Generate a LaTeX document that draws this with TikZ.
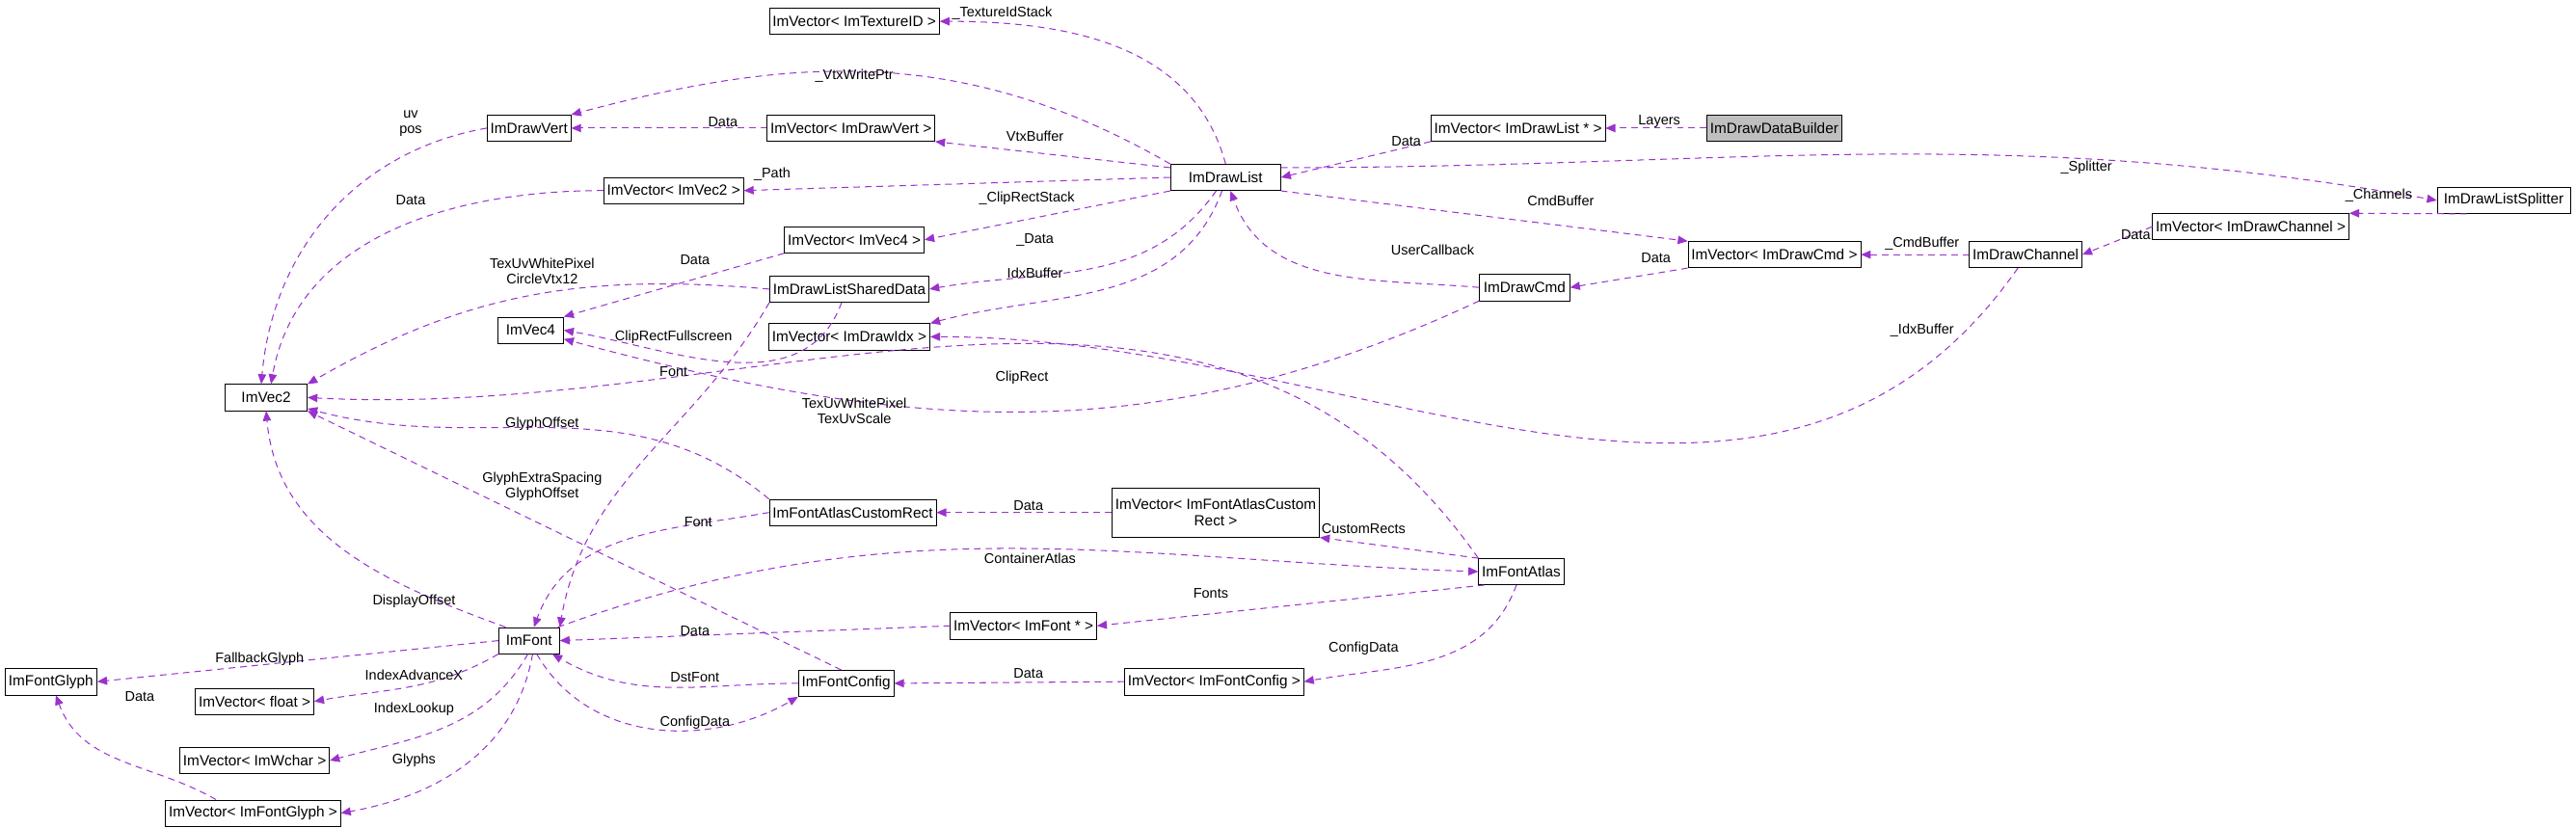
\documentclass[tikz,border=0pt]{standalone}
\usepackage{fontspec}
\setmainfont{Liberation Sans}
\usetikzlibrary{arrows.meta}
\definecolor{edgecol}{HTML}{9A32CD}
\tikzset{
  cls/.style={draw, fill=white, minimum height=16, inner xsep=2pt, inner ysep=1pt, font=\fontsize{9}{10}\selectfont},
  rel/.style={draw=edgecol, line width=0.6pt, dash pattern=on 4pt off 3pt, -{Triangle[length=6pt,width=5pt,fill=edgecol]}},
  lbl/.style={font=\fontsize{8.5}{9.5}\selectfont, inner sep=0pt, align=center}
}
\begin{document}
\begin{tikzpicture}[x=1pt,y=-1pt]
    \useasboundingbox (0,0) rectangle (1568,504);
    % classes
    \node [cls, minimum width=100] (texid) at (520,13) {ImVector< ImTextureID >};
    \node [cls, minimum width=50] (vert) at (322,78) {ImDrawVert};
    \node [cls, minimum width=97] (vvert) at (518,78) {ImVector< ImDrawVert >};
    \node [cls, minimum width=80] (vvec2) at (410,116) {ImVector< ImVec2 >};
    \node [cls, minimum width=67] (dl) at (746,108) {ImDrawList};
    \node [cls, minimum width=97] (vdl) at (924,78) {ImVector< ImDrawList * >};
    \node [cls, minimum width=80, fill=black!25] (builder) at (1080,78) {ImDrawDataBuilder};
    \node [cls, minimum width=81] (splitter) at (1524,122) {ImDrawListSplitter};
    \node [cls, minimum width=85] (vvec4) at (520,146) {ImVector< ImVec4 >};
    \node [cls, minimum width=92] (sd) at (517,176) {ImDrawListSharedData};
    \node [cls, minimum width=100] (vdcmd) at (1080,155) {ImVector< ImDrawCmd >};
    \node [cls, minimum width=65] (chan) at (1233,155) {ImDrawChannel};
    \node [cls, minimum width=110] (vchan) at (1370,138) {ImVector< ImDrawChannel >};
    \node [cls, minimum width=55] (dcmd) at (928,175) {ImDrawCmd};
    \node [cls, minimum width=40] (vec4) at (323,201) {ImVec4};
    \node [cls, minimum width=95] (vidx) at (517,205) {ImVector< ImDrawIdx >};
    \node [cls, minimum width=50] (vec2) at (162,242) {ImVec2};
    \node [cls, minimum width=98] (crect) at (519,312) {ImFontAtlasCustomRect};
    \node [cls, minimum width=119, align=center, minimum height=30] (vcrect) at (740,312) {ImVector< ImFontAtlasCustom\\Rect >};
    \node [cls, minimum width=48] (atlas) at (926,348) {ImFontAtlas};
    \node [cls, minimum width=37] (font) at (322,390) {ImFont};
    \node [cls, minimum width=80] (vfont) at (623,381) {ImVector< ImFont * >};
    \node [cls, minimum width=56] (fglyph) at (31,415) {ImFontGlyph};
    \node [cls, minimum width=70] (vfloat) at (155,427) {ImVector< float >};
    \node [cls, minimum width=50] (fconfig) at (515,416) {ImFontConfig};
    \node [cls, minimum width=102] (vfconfig) at (739,415) {ImVector< ImFontConfig >};
    \node [cls, minimum width=87] (vwchar) at (155,463) {ImVector< ImWchar >};
    \node [cls, minimum width=100] (vglyph) at (154,495) {ImVector< ImFontGlyph >};
    % relations
    \draw [rel] (dl.north) to[out=105,in=0] (texid.east);
    \draw [rel] (dl.north west) to[out=150,in=15] (vert.north east);
    \draw [rel] (vvert.west) -- (vert.east);
    \draw [rel] (dl.170) -- (vvert.south east);
    \draw [rel] (dl.west) -- (vvec2.east);
    \draw [rel] (dl.south west) -- (vvec4.east);
    \draw [rel] (dl.235) to[out=235,in=10] (sd.east);
    \draw [rel] (dl.255) to[out=250,in=15] (vidx.north east);
    \draw [rel] (vdl.south west) -- (dl.east);
    \draw [rel] (builder.west) -- (vdl.east);
    \draw [rel] (dl.10) to[out=0,in=170] (splitter.west);
    \draw [rel] (dl.south east) -- (vdcmd.north west);
    \draw [rel] (dcmd.west) to[out=175,in=290] (dl.290);
    \draw [rel] (vdcmd.south west) -- (dcmd.east);
    \draw [rel] (chan.west) -- (vdcmd.east);
    \draw [rel] (vchan.west) -- (chan.east);
    \draw [rel] (splitter.200) -- (vchan.north east);
    \draw [rel] (chan.240) to[out=235,in=0] (vidx.east);
    \draw [rel] (dcmd.south west) to[out=205,in=-15] (vec4.-15);
    \draw [rel] (vert.west) to[out=190,in=85] (vec2.110);
    \draw [rel] (vvec2.west) to[out=180,in=80] (vec2.70);
    \draw [rel] (sd.west) to[out=175,in=30] (vec2.north east);
    \draw [rel] (vvec4.south west) -- (vec4.north east);
    \draw [rel] (sd.240) to[out=250,in=-10] (vec4.east);
    \draw [rel] (sd.south west) to[out=240,in=80] (font.north east);
    \draw [rel] (atlas.north west) to[out=125,in=-3] (vec2.east);
    \draw [rel] (crect.north west) to[out=140,in=-15] (vec2.-15);
    \draw [rel] (fconfig.110) -- (vec2.south east);
    \draw [rel] (crect.west) to[out=190,in=70] (font.70);
    \draw [rel] (vcrect.west) -- (crect.east);
    \draw [rel] (atlas.north west) -- (vcrect.south east);
    \draw [rel] (font.25) to[out=20,in=178] (atlas.west);
    \draw [rel] (atlas.200) -- (vfont.east);
    \draw [rel] (vfont.west) -- (font.east);
    \draw [rel] (font.150) to[out=160,in=275] (vec2.south);
    \draw [rel] (font.west) -- (fglyph.east);
    \draw [rel] (font.south west) to[out=210,in=10] (vfloat.east);
    \draw [rel] (font.265) to[out=240,in=15] (vwchar.east);
    \draw [rel] (font.285) to[out=260,in=10] (vglyph.east);
    \draw [rel] (vglyph.160) to[out=150,in=290] (fglyph.290);
    \draw [rel] (fconfig.west) to[out=180,in=330] (font.-30);
    \draw [rel] (font.300) to[out=300,in=210] (fconfig.south west);
    \draw [rel] (atlas.250) to[out=250,in=10] (vfconfig.east);
    \draw [rel] (vfconfig.west) -- (fconfig.east);
    % labels
    \node [lbl] (l1) at (610,8) {\_TextureIdStack};
    \node [lbl] (l2) at (520,46) {\_VtxWritePtr};
    \node [lbl] (l3) at (440,74) {Data};
    \node [lbl] (l4) at (630,83) {VtxBuffer};
    \node [lbl] (l5) at (470,106) {\_Path};
    \node [lbl] (l6) at (625,121) {\_ClipRectStack};
    \node [lbl] (l7) at (630,146) {\_Data};
    \node [lbl] (l8) at (630,166) {IdxBuffer};
    \node [lbl] (l9) at (856,86) {Data};
    \node [lbl] (l10) at (1010,74) {Layers};
    \node [lbl] (l11) at (1270,102) {\_Splitter};
    \node [lbl] (l12) at (950,122) {CmdBuffer};
    \node [lbl] (l13) at (872,152) {UserCallback};
    \node [lbl] (l14) at (1008,157) {Data};
    \node [lbl] (l15) at (1170,148) {\_CmdBuffer};
    \node [lbl] (l16) at (1300,143) {Data};
    \node [lbl] (l17) at (1448,119) {\_Channels};
    \node [lbl] (l18) at (1170,201) {\_IdxBuffer};
    \node [lbl] (l19) at (622,230) {ClipRect};
    \node [lbl] (l20) at (520,250) {TexUvWhitePixel\\TexUvScale};
    \node [lbl] (l21) at (250,75) {uv\\pos};
    \node [lbl] (l22) at (250,122) {Data};
    \node [lbl] (l23) at (330,165) {TexUvWhitePixel\\CircleVtx12};
    \node [lbl] (l24) at (423,158) {Data};
    \node [lbl] (l25) at (410,205) {ClipRectFullscreen};
    \node [lbl] (l26) at (410,226) {Font};
    \node [lbl] (l27) at (330,258) {GlyphOffset};
    \node [lbl] (l28) at (330,296) {GlyphExtraSpacing\\GlyphOffset};
    \node [lbl] (l29) at (425,318) {Font};
    \node [lbl] (l30) at (626,308) {Data};
    \node [lbl] (l31) at (830,322) {CustomRects};
    \node [lbl] (l32) at (627,340) {ContainerAtlas};
    \node [lbl] (l33) at (737,361) {Fonts};
    \node [lbl] (l34) at (423,384) {Data};
    \node [lbl] (l35) at (252,366) {DisplayOffset};
    \node [lbl] (l36) at (158,401) {FallbackGlyph};
    \node [lbl] (l37) at (252,411) {IndexAdvanceX};
    \node [lbl] (l38) at (423,412) {DstFont};
    \node [lbl] (l39) at (626,410) {Data};
    \node [lbl] (l40) at (830,395) {ConfigData};
    \node [lbl] (l41) at (252,432) {IndexLookup};
    \node [lbl] (l42) at (423,440) {ConfigData};
    \node [lbl] (l43) at (85,424) {Data};
    \node [lbl] (l44) at (252,463) {Glyphs};
\end{tikzpicture}
\end{document}
